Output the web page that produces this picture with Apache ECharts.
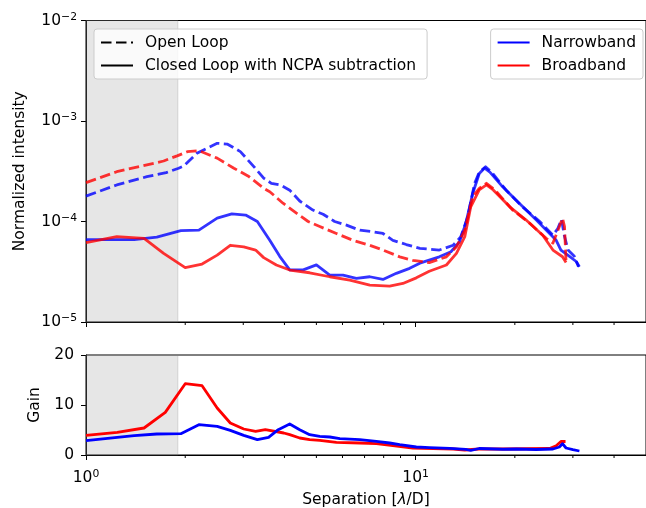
<!DOCTYPE html>
<html><head><meta charset="utf-8">
<script src="https://cdn.jsdelivr.net/npm/echarts@6/dist/echarts.min.js"></script>
<style>html,body{margin:0;padding:0;background:#fff}#c{width:646px;height:508px}</style>
</head><body><div id="c"></div>
<script>
// ---------- data ----------
const nbOpenX = [1.0,1.24,1.53,1.75,1.91,1.98,2.17,2.5,2.68,2.94,3.23,3.46,3.65,3.9,4.15,4.45,4.88,5.24,5.68,6.17,6.77,7.42,7.96,8.53,9.37,10.3,11.8,13.0,13.7,14.4,15.1,15.6,16.3,17.0,18.8,21.1,23.8,26.1,27.0,27.7,28.3,29.0,30.3,31.2];
const nbOpenY = [1.79e-4,2.31e-4,2.79e-4,3.06e-4,3.39e-4,3.57e-4,4.78e-4,6.0e-4,5.9e-4,4.96e-4,3.52e-4,2.7e-4,2.4e-4,2.3e-4,2.05e-4,1.6e-4,1.3e-4,1.18e-4,1.0e-4,9.2e-5,8.2e-5,7.9e-5,7.6e-5,6.5e-5,5.9e-5,5.4e-5,5.2e-5,5.8e-5,7.0e-5,1.12e-4,2.4e-4,3.1e-4,3.5e-4,3.1e-4,2.06e-4,1.4e-4,1.0e-4,7.3e-5,8.5e-5,1.05e-4,7.1e-5,5.2e-5,4.5e-5,3.55e-5];

const nbClosedX = [1.0,1.24,1.40,1.64,1.94,2.2,2.5,2.77,3.05,3.31,3.61,3.87,4.15,4.56,5.0,5.49,6.02,6.61,7.26,7.96,8.74,9.59,10.3,11.8,12.8,13.6,14.2,14.9,15.6,16.2,16.8,18.4,20.7,23.2,25.5,26.7,27.6,29.3,30.7,31.4];
const nbClosedY = [6.6e-5,6.6e-5,6.6e-5,7.0e-5,8.1e-5,8.2e-5,1.08e-4,1.19e-4,1.16e-4,1.0e-4,6.5e-5,4.5e-5,3.3e-5,3.3e-5,3.7e-5,2.93e-5,2.93e-5,2.72e-5,2.82e-5,2.65e-5,3.05e-5,3.42e-5,3.85e-5,4.45e-5,5.0e-5,6.3e-5,9.6e-5,1.9e-4,3.0e-4,3.4e-4,3.1e-4,2.2e-4,1.5e-4,1.04e-4,7.6e-5,6.5e-5,5.2e-5,4.5e-5,4.0e-5,3.55e-5];

const bbOpenX = [1.0,1.24,1.53,1.72,1.89,2.03,2.2,2.5,2.81,3.12,3.46,3.61,3.96,4.35,4.72,5.12,5.75,6.46,7.26,7.96,8.95,9.81,11.0,12.4,13.3,14.1,14.9,15.6,16.4,17.4,19.7,22.2,24.9,26.1,27.3,27.9,28.3,28.5,28.6];
const bbOpenY = [2.44e-4,3.13e-4,3.66e-4,4.0e-4,4.5e-4,4.95e-4,5.07e-4,4.27e-4,3.39e-4,2.8e-4,2.14e-4,1.98e-4,1.52e-4,1.21e-4,1.0e-4,8.9e-5,7.6e-5,6.5e-5,5.8e-5,5.2e-5,4.45e-5,4.1e-5,3.9e-5,4.45e-5,5.6e-5,8.2e-5,1.77e-4,2.14e-4,2.4e-4,2.06e-4,1.3e-4,9.6e-5,6.8e-5,6.1e-5,8.9e-5,1.08e-4,8.9e-5,5.2e-5,4.0e-5];

const bbClosedX = [1.0,1.24,1.5,1.72,2.0,2.25,2.5,2.74,3.01,3.27,3.46,3.78,4.15,4.77,5.49,6.31,7.26,8.34,9.15,10.05,11.0,12.4,13.3,14.1,14.7,15.6,16.4,17.2,19.3,21.6,24.3,26.1,27.9,28.6];
const bbClosedY = [6.15e-5,7.06e-5,6.8e-5,4.82e-5,3.47e-5,3.77e-5,4.63e-5,5.8e-5,5.6e-5,5.2e-5,4.37e-5,3.69e-5,3.29e-5,3.09e-5,2.82e-5,2.61e-5,2.33e-5,2.28e-5,2.42e-5,2.75e-5,3.2e-5,3.69e-5,4.82e-5,7.06e-5,1.4e-4,2.06e-4,2.31e-4,2.06e-4,1.4e-4,1.04e-4,7.3e-5,5.2e-5,4.46e-5,3.9e-5];

const nbGainX = [1.0,1.244,1.40,1.64,1.94,2.2,2.5,2.74,3.01,3.31,3.58,3.83,4.15,4.45,4.77,5.12,5.49,5.89,6.77,7.6,8.34,8.95,10.05,11.0,12.7,14.2,14.7,15.6,18.4,20.2,23.2,26.1,27.3,27.9,28.6,30.0,31.4];
const nbGainY = [2.86,3.52,3.86,4.2,4.26,6.06,5.72,4.92,3.92,3.06,3.52,5.06,6.2,5.06,4.06,3.72,3.6,3.26,3.06,2.72,2.4,2.06,1.6,1.46,1.32,1.12,0.92,1.3,1.15,1.2,1.1,1.2,1.6,2.26,1.4,1.06,0.8];

const bbGainX = [1.0,1.244,1.5,1.74,2.0,2.25,2.5,2.74,3.01,3.27,3.5,3.98,4.15,4.45,4.77,5.12,5.75,6.77,7.6,8.53,9.81,11.3,13.0,14.1,15.6,18.4,25.5,26.7,27.6,28.5];
const bbGainY = [3.92,4.52,5.4,8.52,14.26,13.86,9.4,6.4,5.2,4.72,5.06,4.4,4.06,3.4,3.06,2.92,2.52,2.4,2.26,1.86,1.4,1.26,1.2,1.0,1.2,1.2,1.3,1.86,2.7,2.7];

const spanX = [1, 1.9];                       // shaded region
const xRange = [1, 50];
const xMinorTicks = [2,3,4,5,6,7,8,9,20,30,40];
const intensityRange = [1e-5, 1e-2];
const gainRange = [0, 20];
const gainInterval = 10;

const legendStyles = ['Open Loop', 'Closed Loop with NCPA subtraction'];
const legendBands = ['Narrowband', 'Broadband'];
const titles = {y1: 'Normalized intensity', y2: 'Gain', x: 'Separation [{i|λ}/D]'};

// ---------- chart ----------
const F = 'DejaVu Sans';
const FS = 15.5;
const FSS = 10.8;
const zip = (xs, ys) => xs.map((x, i) => [x, ys[i]]);

function sciLabel(v) {
  const l = Math.log10(v), e = Math.round(l);
  if (Math.abs(l - e) > 1e-6) return '';
  return '{b|10}{s|' + (e < 0 ? '\u2212' : '') + Math.abs(e) + '}';
}
const sciRich = {
  b: {fontFamily: F, fontSize: FS, color: '#000', lineHeight: 18, padding: [4, 0, 4, 0], verticalAlign: 'middle'},
  s: {fontFamily: F, fontSize: FSS, color: '#000', lineHeight: 11, verticalAlign: 'top'}
};

const axisLineBlack = {show: true, lineStyle: {color: '#000', width: 1}};
const tickOut = {show: true, inside: false, length: 5, lineStyle: {color: '#000', width: 1}};

function minorTicks(xi, yBase) {
  return {
    type: 'custom', xAxisIndex: xi, yAxisIndex: xi, silent: true, clip: false, z: 10,
    data: xMinorTicks.map(v => [v, yBase]),
    renderItem: (params, api) => {
      const p = api.coord([api.value(0), api.value(1)]);
      return {type: 'line', shape: {x1: p[0], y1: p[1], x2: p[0], y2: p[1] + 3}, style: {stroke: '#000', lineWidth: 1}};
    }
  };
}
function span(xi) {
  return {
    type: 'line', xAxisIndex: xi, yAxisIndex: xi, data: [], silent: true,
    markArea: {silent: true, itemStyle: {color: 'rgba(128,128,128,0.2)', borderColor: 'rgba(128,128,128,0.25)', borderWidth: 1},
      data: [[{xAxis: spanX[0]}, {xAxis: spanX[1]}]]}
  };
}
const LW = 2.8;
function line(name, xi, xs, ys, color, dashed, opacity) {
  return {
    name, type: 'line', xAxisIndex: xi, yAxisIndex: xi, data: zip(xs, ys),
    symbol: 'none', showSymbol: false, smooth: false, silent: true, z: 5,
    lineStyle: {color, width: LW, type: dashed ? [10.5, 4.5] : 'solid', opacity, cap: 'butt', join: 'round'},
    itemStyle: {color}
  };
}

const legendCommon = {
  orient: 'vertical', top: 29, itemWidth: 32, itemHeight: 14, itemGap: 6,
  padding: [5, 7, 5, 6], backgroundColor: 'rgba(255,255,255,0.8)', borderColor: '#cccccc',
  borderWidth: 1, borderRadius: 3, selectedMode: false,
  itemStyle: {color: 'rgba(0,0,0,0)', borderColor: 'rgba(0,0,0,0)', borderWidth: 0, opacity: 0},
  lineStyle: {opacity: 1},
  textStyle: {fontFamily: F, fontSize: FS, color: '#000', lineHeight: 17, padding: [0, 0, 0, 7]}
};

const option = {
  animation: false,
  backgroundColor: '#fff',
  textStyle: {fontFamily: F},
  grid: [
    {left: 86, top: 20.5, width: 560, height: 301.5, show: true, borderColor: '#000', borderWidth: 1, backgroundColor: 'transparent', outerBoundsMode: 'none', containLabel: false},
    {left: 86, top: 355, width: 560, height: 100, show: true, borderColor: '#000', borderWidth: 1, backgroundColor: 'transparent', outerBoundsMode: 'none', containLabel: false}
  ],
  legend: [
    Object.assign({}, legendCommon, {data: legendStyles, left: 94, padding: [5, 11, 5, 6]}),
    Object.assign({}, legendCommon, {data: legendBands, right: 3})
  ],
  xAxis: [
    {type: 'log', logBase: 10, gridIndex: 0, min: xRange[0], max: xRange[1], axisLine: axisLineBlack, axisTick: tickOut,
     axisLabel: {show: false}, splitLine: {show: false}, minorTick: {show: false}, minorSplitLine: {show: false}},
    {type: 'log', logBase: 10, gridIndex: 1, min: xRange[0], max: xRange[1], axisLine: axisLineBlack, axisTick: tickOut,
     axisLabel: {show: true, margin: 14, formatter: sciLabel, rich: sciRich, color: '#000'},
     splitLine: {show: false}, minorTick: {show: false},
     name: titles.x, nameLocation: 'middle', nameGap: 37,
     nameTextStyle: {fontFamily: F, fontSize: FS, color: '#000', rich: {i: {fontFamily: F, fontSize: FS, fontStyle: 'italic', color: '#000'}}}}
  ],
  yAxis: [
    {type: 'log', logBase: 10, gridIndex: 0, min: intensityRange[0], max: intensityRange[1], axisLine: axisLineBlack, axisTick: tickOut,
     axisLabel: {show: true, margin: 9, formatter: sciLabel, rich: sciRich, color: '#000'},
     splitLine: {show: false}, minorTick: {show: false},
     name: titles.y1, nameLocation: 'middle', nameGap: 58, nameRotate: 90,
     nameTextStyle: {fontFamily: F, fontSize: FS, color: '#000'}},
    {type: 'value', gridIndex: 1, min: gainRange[0], max: gainRange[1], interval: gainInterval, axisLine: axisLineBlack, axisTick: tickOut,
     axisLabel: {show: true, margin: 12, fontFamily: F, fontSize: FS, color: '#000'},
     splitLine: {show: false},
     name: titles.y2, nameLocation: 'middle', nameGap: 43, nameRotate: 90,
     nameTextStyle: {fontFamily: F, fontSize: FS, color: '#000'}}
  ],
  series: [
    span(0), span(1),
    line('Open Loop', 0, [], [], '#000', true, 1),
    line('Closed Loop with NCPA subtraction', 0, [], [], '#000', false, 1),
    line('Narrowband OL', 0, nbOpenX, nbOpenY, '#0000ff', true, 0.8),
    line('Narrowband CL', 0, nbClosedX, nbClosedY, '#0000ff', false, 0.8),
    line('Broadband OL', 0, bbOpenX, bbOpenY, '#ff0000', true, 0.8),
    line('Broadband CL', 0, bbClosedX, bbClosedY, '#ff0000', false, 0.8),
    line('Broadband', 1, bbGainX, bbGainY, '#ff0000', false, 1),
    line('Narrowband', 1, nbGainX, nbGainY, '#0000ff', false, 1),
    minorTicks(0, intensityRange[0]),
    minorTicks(1, gainRange[0])
  ]
};
const chart = echarts.init(document.getElementById('c'), null, {renderer: 'canvas'});
chart.setOption(option);
</script></body></html>
